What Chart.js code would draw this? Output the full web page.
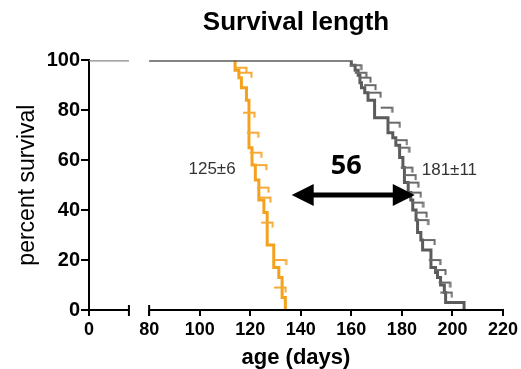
<!DOCTYPE html>
<html>
<head>
<meta charset="utf-8">
<script src="https://cdn.jsdelivr.net/npm/chart.js@4.4.0/dist/chart.umd.min.js"></script>
<style>
  html, body { margin: 0; padding: 0; background: #fff; }
</style>
</head>
<body>
<canvas id="survivalChart" width="521" height="369"></canvas>
<script>
// survival steps (day of drop, % surviving after it)
const orangeDays = [114, 115.5, 116.5, 118.5, 119.5, 120.7, 122, 123.4, 125.4, 126.7, 129.3, 131.3, 132.6, 133.9];
const orangeSurv = [96, 93, 89, 84, 65, 58, 52, 44, 39, 26, 17, 13, 5, 0];
const greyDays = [160, 161.5, 162.7, 163.4, 164, 165.3, 166.6, 169.2, 174.5, 176.4, 177.6, 179.1, 180.4, 181,
  182.5, 183.5, 184.3, 185.6, 186.2, 187.5, 188.2, 191.5, 193.3, 194.1, 195.3, 196.8, 197.3, 204.6];
const greySurv = [98, 96, 94, 91, 89, 87, 84, 77, 71, 69, 66, 61, 57, 51,
  47, 44, 40, 36, 31, 28, 24, 17, 15, 13, 10, 7, 3, 0];

// the little capped marks next to each curve
const orangeCapDays = [116.3, 118.3, 119.5, 121, 122.2, 124.2, 125, 125.8, 126.7, 132, 131.8];
const orangeCapSurv = [97, 95, 79, 71, 63, 58, 49, 45, 35, 20, 9];
const greyCapDays = [161.7, 163.7, 165.4, 167.4, 169.4, 174, 177, 179.8, 180.7, 181.9, 183.3, 184.3,
  185.3, 186.2, 187.6, 188.2, 190.8, 193, 195.1, 196.9, 197.6];
const greyCapSurv = [98, 95, 93, 90, 87, 81, 75, 68, 65, 57, 54, 51, 47, 43, 39, 36, 28, 20, 16, 11, 7];

// axis: a short 0.. piece, a break, then 80..220
const xTickDays = [0, 80, 100, 120, 140, 160, 180, 200, 220];
const xTickLabels = ['0', '80', '100', '120', '140', '160', '180', '200', '220'];
const yTicks = [0, 20, 40, 60, 80, 100];

const ZERO_AT = 56.2;     // axis unit where day 0 sits
const LEFT_END = 72;      // axis unit where the left piece stops
const LEFT_DAYS = 24;     // days shown on the left piece
const RIGHT_START = 80;

function toAxis(day) {
  if (day >= RIGHT_START) return day;
  return ZERO_AT + day * (LEFT_END - ZERO_AT) / LEFT_DAYS;
}

function stepPoints(days, surv, from) {
  const pts = [{ x: from, y: 100 }];
  days.forEach((d, i) => pts.push({ x: d, y: surv[i] }));
  return pts;
}

function capPoints(days, surv) {
  return days.map((d, i) => ({ x: d, y: surv[i] }));
}

// annotations
const labelOrange = { text: '125\u00b16', day: 104.9, surv: 56.4 };
const labelGrey = { text: '181\u00b111', day: 198.8, surv: 56 };
const labelGap = { text: '56', day: 158, surv: 57.4 };
const arrowFrom = 136.4, arrowTo = 185.1, arrowSurv = 46;

const FONT = "'Liberation Sans', Arial, sans-serif";

function makeCap(color) {
  const c = document.createElement('canvas');
  c.width = 14; c.height = 12;
  const g = c.getContext('2d');
  g.strokeStyle = color;
  g.lineWidth = 2;
  g.beginPath();
  g.moveTo(1, 6); g.lineTo(12.5, 6);
  g.moveTo(12.5, 5); g.lineTo(12.5, 11);
  g.stroke();
  return c;
}

const brokenAxis = {
  id: 'brokenAxis',
  afterDraw(chart) {
    const { ctx, scales: { x, y } } = chart;
    const y0 = y.getPixelForValue(0);
    const a = x.getPixelForValue(toAxis(0));
    const b = x.getPixelForValue(LEFT_END);
    const c = x.getPixelForValue(RIGHT_START);
    const d = x.getPixelForValue(220);
    ctx.save();
    ctx.strokeStyle = '#000';
    ctx.lineWidth = 2;
    ctx.beginPath();
    ctx.moveTo(a - 1, y0); ctx.lineTo(b, y0);
    ctx.moveTo(c, y0); ctx.lineTo(d + 1, y0);
    ctx.moveTo(b, y0 - 5); ctx.lineTo(b, y0 + 6);
    ctx.moveTo(c, y0 - 5); ctx.lineTo(c, y0 + 6);
    ctx.stroke();

    // text labels
    ctx.textAlign = 'center';
    ctx.textBaseline = 'middle';
    ctx.fillStyle = '#333';
    ctx.font = '17px ' + FONT;
    [labelOrange, labelGrey].forEach(l => {
      ctx.fillText(l.text, x.getPixelForValue(l.day), y.getPixelForValue(l.surv));
    });
    ctx.fillStyle = '#000';
    ctx.font = "bold 27px 'Open Sans', " + FONT;
    ctx.fillText(labelGap.text, x.getPixelForValue(labelGap.day), y.getPixelForValue(labelGap.surv));

    // double arrow
    const ax1 = x.getPixelForValue(arrowFrom);
    const ax2 = x.getPixelForValue(arrowTo);
    const ay = y.getPixelForValue(arrowSurv);
    const head = 22, half = 11;
    ctx.lineWidth = 5;
    ctx.strokeStyle = '#000';
    ctx.beginPath();
    ctx.moveTo(ax1 + head - 2, ay); ctx.lineTo(ax2 - head + 2, ay);
    ctx.stroke();
    ctx.beginPath();
    ctx.moveTo(ax1, ay); ctx.lineTo(ax1 + head, ay - half); ctx.lineTo(ax1 + head, ay + half); ctx.closePath();
    ctx.moveTo(ax2, ay); ctx.lineTo(ax2 - head, ay - half); ctx.lineTo(ax2 - head, ay + half); ctx.closePath();
    ctx.fill();
    ctx.restore();
  }
};

// flat 100% stretch is drawn lighter than the falling part
const flatTop = (dark, light) => c => (c.p0.parsed.y === 100 && c.p1.parsed.y === 100 ? light : dark);

const ctx = document.getElementById('survivalChart').getContext('2d');
const chart = new Chart(ctx, {
  type: 'line',
  data: {
    datasets: [
      {
        label: 'grey',
        data: stepPoints(greyDays, greySurv, RIGHT_START),
        borderColor: '#5b5b5b',
        segment: { borderColor: flatTop('#5b5b5b', '#888') },
        borderWidth: 3,
        stepped: true,
        pointRadius: 0,
        order: 1
      },
      {
        label: 'orange',
        data: stepPoints(orangeDays, orangeSurv, orangeDays[0]),
        borderColor: '#f4a21e',
        borderWidth: 3,
        stepped: true,
        pointRadius: 0,
        order: 2
      },
      {
        label: 'start',
        data: [0, LEFT_DAYS].map(d => ({ x: toAxis(d), y: 100 })),
        borderColor: '#888',
        borderWidth: 2.5,
        pointRadius: 0,
        order: 3
      },
      {
        label: 'grey caps',
        type: 'scatter',
        data: capPoints(greyCapDays, greyCapSurv),
        pointStyle: makeCap('#6a6a6a'),
        order: 0
      },
      {
        label: 'orange caps',
        type: 'scatter',
        data: capPoints(orangeCapDays, orangeCapSurv),
        pointStyle: makeCap('#f5aa34'),
        order: 0
      }
    ]
  },
  options: {
    responsive: false,
    animation: false,
    layout: { padding: { left: 0, right: 15, top: 0, bottom: 0 } },
    plugins: {
      legend: { display: false },
      tooltip: { enabled: false },
      title: {
        display: true,
        text: 'Survival length',
        fullSize: false,
        color: '#000',
        font: { family: FONT, size: 26, weight: 'bold', lineHeight: 1.2 },
        padding: { top: 7, bottom: 22 }
      }
    },
    scales: {
      x: {
        type: 'linear',
        min: ZERO_AT,
        max: 220,
        afterBuildTicks(scale) {
          scale.ticks = xTickDays.map(d => ({ value: toAxis(d) }));
        },
        afterFit(scale) { scale.height = 59; },
        border: { display: false },
        grid: { drawOnChartArea: false, drawTicks: true, tickLength: 6, color: '#000', lineWidth: 2 },
        ticks: {
          color: '#000',
          padding: 3,
          maxRotation: 0,
          autoSkip: false,
          font: { family: FONT, size: 18, weight: 'bold' },
          callback: (v, i) => xTickLabels[i]
        },
        title: {
          display: true,
          text: 'age (days)',
          color: '#000',
          font: { family: FONT, size: 22, weight: 'bold', lineHeight: 1 },
          padding: { top: 0, bottom: 0 }
        }
      },
      y: {
        min: 0,
        max: 100,
        afterBuildTicks(scale) {
          scale.ticks = yTicks.map(v => ({ value: v }));
        },
        afterFit(scale) { scale.width = 89; },
        border: { display: true, color: '#000', width: 2 },
        grid: { drawOnChartArea: false, drawTicks: true, tickLength: 8, color: '#000', lineWidth: 2 },
        ticks: {
          color: '#000',
          padding: 1,
          font: { family: FONT, size: 20, weight: 'bold' }
        },
        title: {
          display: true,
          text: 'percent survival',
          color: '#000',
          font: { family: FONT, size: 23 },
          padding: { top: 14, bottom: 0 }
        }
      }
    }
  },
  plugins: [brokenAxis]
});
</script>
</body>
</html>
